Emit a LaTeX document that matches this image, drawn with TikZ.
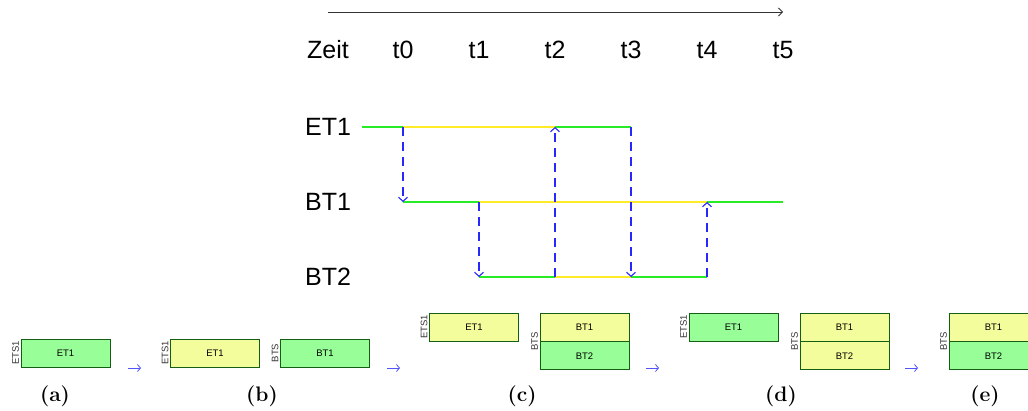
\documentclass[tikz,border=0pt]{standalone}
\usepackage{fontspec}
\setsansfont{Liberation Sans}
\usetikzlibrary{arrows.meta,positioning}

\definecolor{mint}{RGB}{152,255,152}
\definecolor{pale}{RGB}{244,253,155}
\definecolor{frame}{RGB}{20,95,20}
\definecolor{lgreen}{RGB}{40,235,40}
\definecolor{lyellow}{RGB}{255,236,40}
\definecolor{sblue}{RGB}{40,40,250}

\begin{document}
\begin{tikzpicture}[
      x=1pt, y=-1pt,
      font=\sffamily,
      big/.style={font=\sffamily\fontsize{25}{28}\selectfont, inner sep=0pt},
      free/.style={draw=lgreen, line width=1.5pt},
      busy/.style={draw=lyellow, line width=1.5pt},
      hop/.style={draw=sblue, line width=1.1pt, dash pattern=on 9pt off 6pt,
        -{Straight Barb[length=4pt,width=9pt]}},
      slot/.style={
        draw=frame,
        line width=0.9pt,
        minimum width=89pt,
        minimum height=28pt,
        inner sep=0pt,
        font=\sffamily\fontsize{9.5}{11}\selectfont
      },
      idle/.style={slot, fill=mint},
      used/.style={slot, fill=pale},
      side/.style={rotate=90, anchor=south, inner sep=1.5pt, text=black!80,
        font=\sffamily\fontsize{9.5}{10}\selectfont},
      step arrow/.style={draw=sblue!80, line width=0.8pt,
        -{Straight Barb[length=3pt,width=7pt]}},
      panel/.style={font=\rmfamily\bfseries\fontsize{21}{24}\selectfont}
    ]
    \useasboundingbox (0,0) rectangle (1028,410);

    % time axis
    \node[big] (zeit) at (328,50) {Zeit};
    \foreach \i/\x in {0/403,1/479,2/555,3/631,4/707,5/783}
      \node[big] (t\i) at (\x,50) {t\i};
    \coordinate (axis) at (0,12);
    \draw[black!80, line width=0.8pt, -{Straight Barb[length=4pt,width=8pt]}]
      (zeit |- axis) -- (t5 |- axis);

    % task rows
    \node[big] (et1) at (328,127) {ET1};
    \node[big] (bt1) at (328,202) {BT1};
    \node[big] (bt2) at (328,277) {BT2};
    \foreach \r/\y in {e1/127,b1/202,b2/277}
      \foreach \i/\x in {0/403,1/479,2/555,3/631,4/707,5/783}
        \coordinate (\r\i) at (\x,\y);
    \coordinate (e1s) at (362,127);

    \draw[free] (e1s) -- (e10);
    \draw[busy] (e10) -- (e12);
    \draw[free] (e12) -- (e13);
    \draw[free] (b10) -- (b11);
    \draw[busy] (b11) -- (b14);
    \draw[free] (b14) -- (b15);
    \draw[free] (b21) -- (b22);
    \draw[busy] (b22) -- (b23);
    \draw[free] (b23) -- (b24);

    \draw[hop] (e10) -- (b10);
    \draw[hop] (b11) -- (b21);
    \draw[hop] (b22) -- (e12);
    \draw[hop] (e13) -- (b23);
    \draw[hop] (b24) -- (b14);

    % (a)
    \node[idle] (aET) at (65.5,353) {ET1};
    \node[side] at (aET.west) {ETS1};
    \node[panel] (pa) at (55,396) {(a)};

    % (b)
    \node[used] (bET) at (215,353) {ET1};
    \node[side] at (bET.west) {ETS1};
    \node[idle] (bBT) at (325,353) {BT1};
    \node[side] at (bBT.west) {BTS};
    \node[panel] (pb) at (262,396) {(b)};

    % (c)
    \node[used] (cET) at (474,327) {ET1};
    \node[side] at (cET.west) {ETS1};
    \node[used] (cB1) at (584.5,327) {BT1};
    \node[idle, below=0pt of cB1] (cB2) {BT2};
    \node[side] at (cB1.south west) {BTS};
    \node[panel] (pc) at (522,396) {(c)};

    % (d)
    \node[idle] (dET) at (733.5,327) {ET1};
    \node[side] at (dET.west) {ETS1};
    \node[used] (dB1) at (844.5,327) {BT1};
    \node[used, below=0pt of dB1] (dB2) {BT2};
    \node[side] at (dB1.south west) {BTS};
    \node[panel] (pd) at (781,396) {(d)};

    % (e)
    \node[used] (eB1) at (993.5,327) {BT1};
    \node[idle, below=0pt of eB1] (eB2) {BT2};
    \node[side] at (eB1.south west) {BTS};
    \node[panel] (pe) at (985,396) {(e)};

    % steps between panels
    \foreach \n/\x in {1/128,2/387,3/646,4/905} {
      \coordinate (s\n) at (\x,368);
      \coordinate (f\n) at (\x+13,368);
      \draw[step arrow] (s\n) -- (f\n);
    }
\end{tikzpicture}
\end{document}
